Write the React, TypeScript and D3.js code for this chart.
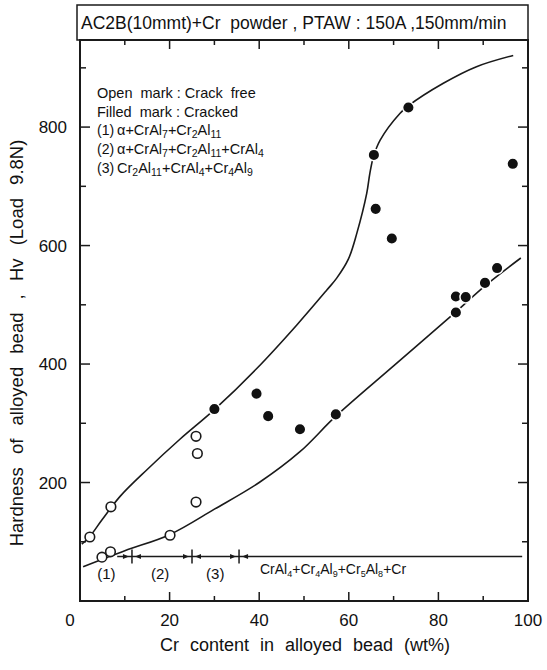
import React from "react";
import * as d3 from "d3";

const W = 547;
const H = 670;

// Open mark: crack free
const openX = [2.2, 6.9, 4.9, 6.8, 20.1, 25.9, 26.2, 25.9];
const openY = [108, 159, 74, 83, 111, 278, 249, 167];

// Filled mark: cracked
const filledX = [30.0, 39.4, 42.0, 49.1, 57.1, 65.6, 66.0, 69.6, 73.3, 83.9, 86.1, 83.9, 90.4, 93.1, 96.6];
const filledY = [324, 350, 312, 290, 315, 753, 662, 612, 833, 514, 513, 487, 537, 562, 738];

// Upper trend curve
const upperX = [0.4, 2.2, 5, 9, 15, 22.3, 30, 39.4, 48.4, 55.1, 57.3, 59.9, 61.8, 64, 64.7, 65.5, 67, 71.4, 73.3, 81.1, 88.5, 96.7];
const upperY = [96, 109, 138, 177, 222, 273, 323, 392, 466, 525, 545, 577, 621, 688, 722, 750, 778, 823, 836, 874, 902, 921];

// Lower trend curve
const lowerX = [0.7, 10, 20, 30, 40, 49.1, 57.1, 70, 83.9, 90.4, 98.4];
const lowerY = [58, 85, 112, 155, 200, 252, 312, 397, 488, 532, 579];

// Phase ranges
const phaseBounds = [11.6, 25, 35.5];
const phaseLine = [8.3, 98.7];
const phaseLevel = 75;
const phaseLabelX = [5.9, 17.9, 30.2];
const phaseLabels = ["(1)", "(2)", "(3)"];

const xMajor = [20, 40, 60, 80, 100];
const xMinor = [10, 30, 50, 70, 90];
const yMajor = [200, 400, 600, 800];
const yMinor = [100, 300, 500, 700, 900];

type Seg = [string, boolean];

const legendLines: Seg[][] = [
  [["Open  mark : Crack  free", false]],
  [["Filled  mark : Cracked", false]],
  [["α+CrAl", false], ["7", true], ["+Cr", false], ["2", true], ["Al", false], ["11", true]],
  [["α+CrAl", false], ["7", true], ["+Cr", false], ["2", true], ["Al", false], ["11", true], ["+CrAl", false], ["4", true]],
  [["Cr", false], ["2", true], ["Al", false], ["11", true], ["+CrAl", false], ["4", true], ["+Cr", false], ["4", true], ["Al", false], ["9", true]],
];
const legendNums = ["", "", "(1)", "(2)", "(3)"];

const phase4: Seg[] = [["CrAl", false], ["4", true], ["+Cr", false], ["4", true], ["Al", false], ["9", true], ["+Cr", false], ["5", true], ["Al", false], ["8", true], ["+Cr", false]];

const FONT = "'Liberation Sans', Arial, Helvetica, sans-serif";

function SubText({ segs, x, y, size, sub }: { segs: Seg[]; x: number; y: number; size: number; sub: number }) {
  return (
    <text x={x} y={y} fontSize={size} fontFamily={FONT} fill="#111" style={{ whiteSpace: "pre" }}>
      {segs.map((s, i) =>
        s[1] ? (
          <tspan key={i} fontSize={sub} dy={3}>{s[0]}</tspan>
        ) : (
          <tspan key={i} dy={i > 0 && segs[i - 1][1] ? -3 : 0}>{s[0]}</tspan>
        )
      )}
    </text>
  );
}

export default function App() {
  const x = d3.scaleLinear().domain([0, 100]).range([80, 528]);
  const y = d3.scaleLinear().domain([0, 947]).range([601, 40]);
  const line = d3
    .line<[number, number]>()
    .x((d) => x(d[0]))
    .y((d) => y(d[1]))
    .curve(d3.curveCatmullRom.alpha(0.5));
  const upper = upperX.map((v, i) => [v, upperY[i]] as [number, number]);
  const lower = lowerX.map((v, i) => [v, lowerY[i]] as [number, number]);
  const left = x(0), right = x(100), top = y(947), bottom = y(0);
  const py = y(phaseLevel);
  const stroke = "#1a1a1a";

  return (
    <svg width={W} height={H} style={{ position: "absolute", left: 0, top: 0, background: "#fff" }}>
      <rect x={0} y={0} width={W} height={H} fill="#fff" />
      {/* title box */}
      <rect x={left - 3} y={5} width={right - left + 3} height={top - 5} fill="none" stroke={stroke} strokeWidth={1.5} />
      <text x={left + 1} y={29} fontSize={17.5} fontFamily={FONT} fill="#111" style={{ whiteSpace: "pre" }}>
        AC2B(10mmt)+Cr  powder , PTAW : 150A ,150mm/min
      </text>
      {/* plot frame */}
      <rect x={left} y={top} width={right - left} height={bottom - top} fill="none" stroke={stroke} strokeWidth={2} />
      {/* ticks */}
      {xMajor.concat(xMinor).map((v) => {
        const len = xMajor.includes(v) ? 9 : 5;
        return (
          <g key={"xt" + v}>
            <line x1={x(v)} x2={x(v)} y1={bottom} y2={bottom - len} stroke={stroke} strokeWidth={1.5} />
            <line x1={x(v)} x2={x(v)} y1={top} y2={top + len} stroke={stroke} strokeWidth={1.5} />
          </g>
        );
      })}
      {yMajor.concat(yMinor).map((v) => {
        const len = yMajor.includes(v) ? 10 : 6;
        return (
          <g key={"yt" + v}>
            <line x1={left} x2={left + len} y1={y(v)} y2={y(v)} stroke={stroke} strokeWidth={1.5} />
            <line x1={right} x2={right - len} y1={y(v)} y2={y(v)} stroke={stroke} strokeWidth={1.5} />
          </g>
        );
      })}
      {/* tick labels */}
      {xMajor.map((v) => (
        <text key={"xl" + v} x={x(v)} y={626} textAnchor="middle" fontSize={17} fontFamily={FONT} fill="#111">
          {v}
        </text>
      ))}
      <text x={70} y={626} textAnchor="middle" fontSize={17} fontFamily={FONT} fill="#111">0</text>
      {yMajor.map((v) => (
        <text key={"yl" + v} x={67} y={y(v) + 6} textAnchor="end" fontSize={17} fontFamily={FONT} fill="#111">
          {v}
        </text>
      ))}
      {/* axis titles */}
      <text x={305} y={651} textAnchor="middle" fontSize={18} fontFamily={FONT} fill="#111" wordSpacing={6}>
        Cr content in alloyed bead (wt%)
      </text>
      <text
        transform={`translate(23,343) rotate(-90)`}
        textAnchor="middle"
        fontSize={18.5}
        fontFamily={FONT}
        fill="#111"
        wordSpacing={8}
      >
        Hardness of alloyed bead , Hv (Load 9.8N)
      </text>
      {/* legend */}
      {legendLines.map((segs, i) => (
        <g key={"lg" + i}>
          {legendNums[i] && (
            <text x={97} y={98 + i * 18.7} fontSize={14} fontFamily={FONT} fill="#111">{legendNums[i]}</text>
          )}
          <SubText segs={segs} x={legendNums[i] ? 117 : 97} y={98 + i * 18.7} size={14.5} sub={10.5} />
        </g>
      ))}
      {/* curves */}
      <path d={line(upper) || ""} fill="none" stroke={stroke} strokeWidth={1.6} />
      <path d={line(lower) || ""} fill="none" stroke={stroke} strokeWidth={1.6} />
      {/* phase line */}
      <line x1={x(phaseLine[0])} x2={x(phaseLine[1])} y1={py} y2={py} stroke={stroke} strokeWidth={1.5} />
      {phaseBounds.map((b) => {
        const bx = x(b);
        return (
          <g key={"pb" + b}>
            <line x1={bx} x2={bx} y1={py - 7} y2={py + 7} stroke={stroke} strokeWidth={1.5} />
            <path d={`M${bx - 3},${py} L${bx - 9},${py - 2.5} L${bx - 9},${py + 2.5} Z`} fill={stroke} />
            <path d={`M${bx + 3},${py} L${bx + 9},${py - 2.5} L${bx + 9},${py + 2.5} Z`} fill={stroke} />
          </g>
        );
      })}
      {phaseLabels.map((l, i) => (
        <text key={l} x={x(phaseLabelX[i])} y={579} textAnchor="middle" fontSize={15} fontFamily={FONT} fill="#111">
          {l}
        </text>
      ))}
      <SubText segs={phase4} x={260} y={574} size={14} sub={9} />
      {/* markers */}
      {openX.map((v, i) => (
        <circle key={"o" + i} cx={x(v)} cy={y(openY[i])} r={4.8} fill="#fff" stroke={stroke} strokeWidth={1.6} />
      ))}
      {filledX.map((v, i) => (
        <circle key={"f" + i} cx={x(v)} cy={y(filledY[i])} r={5.8} fill="#111" stroke="#fff" strokeWidth={1.5} />
      ))}
    </svg>
  );
}
